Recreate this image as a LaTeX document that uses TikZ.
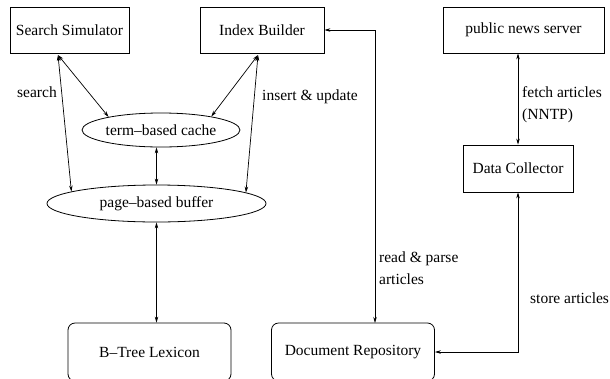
\documentclass[tikz,border=0pt]{standalone}
\usepackage{fontspec}
\setmainfont{Liberation Serif}
\usepackage{tikz}
\usetikzlibrary{arrows.meta,shapes,positioning}
\tikzset{
    module/.style={
                draw=black,
                line width=0.8pt,
                text centered,
                minimum height=46pt
            },
        store/.style={
                draw=black,
                line width=0.8pt,
                rounded corners=7pt,
                text centered,
                minimum width=163pt,
                minimum height=58pt
            },
        memory/.style={
                draw=black,
                ellipse,
                line width=0.8pt,
                inner sep=0pt
            },
        flow/.style={
                {Stealth[length=6pt,width=3.5pt]}-{Stealth[length=6pt,width=3.5pt]},
                line width=0.7pt
            },
        note/.style={
                anchor=west,
                align=left,
                inner sep=0pt
            },
}

\begin{document}
\begin{tikzpicture}[
    x=1pt,y=-1pt,
    font=\fontsize{15.5}{22}\selectfont,
  ]
  \clip (0,0) rectangle (610,378);
  % Modules
  \node[module,minimum width=119pt] (sim) at (69.5,30) {Search Simulator};
  \node[module,minimum width=124pt] (idx) at (262,30) {Index Builder};
  \node[module,minimum width=161pt] (news) at (523.5,30) {public news server};
  \node[module,minimum width=110pt,minimum height=47pt] (coll) at (518,168.5) {Data Collector};
  % Caches
  \node[memory,minimum width=158pt,minimum height=34pt] (cache) at (161,130) {term--based cache};
  \node[memory,minimum width=219pt,minimum height=37pt] (buf) at (156.5,203.5) {page--based buffer};
  % Storage
  \node[store] (btree) at (149.5,352) {B--Tree Lexicon};
  \node[store] (repo) at (353,352) {Document Repository};
  % Connectors
  \coordinate (simout) at (58,55);
  \coordinate (idxout) at (258,55);
  \coordinate (repoin) at (375,323);
  \draw[flow] (simout) -- (cache.166);
  \draw[flow] (simout) -- (buf.172);
  \draw[flow] (idxout) -- (cache.15);
  \draw[flow] (idxout) -- (buf.7);
  \draw[flow] (buf.north |- cache.south) -- (buf.north);
  \draw[flow] (buf.south) -- (buf.south |- btree.north);
  \draw[flow] (idx.east) -| (repoin);
  \draw[flow] (coll.north |- news.south) -- (coll.north);
  \draw[flow] (coll.south) |- (repo.east);
  % Labels
  \node[note] (searchlbl) at (17,92) {search};
  \node[note] (insertlbl) at (262,97) {insert \& update};
  \node[note] (fetchlbl) at (522,105) {fetch articles\\(NNTP)};
  \node[note] (readlbl) at (379,268) {read \& parse\\articles};
  \node[note] (storelbl) at (530,298) {store articles};
\end{tikzpicture}
\end{document}
